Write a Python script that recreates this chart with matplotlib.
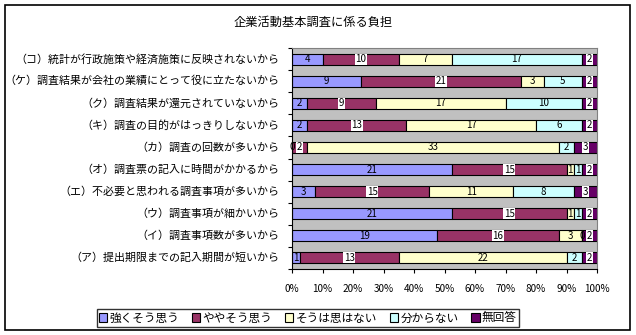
import matplotlib
matplotlib.use("Agg")
import numpy as np
import matplotlib.pyplot as plt
import matplotlib.transforms as mtransforms
from matplotlib.patches import Rectangle, Patch

plt.rcParams['font.family'] = ['Noto Sans CJK JP', 'DejaVu Sans']

title = "企業活動基本調査に係る負担"
categories = [
    "（コ）統計が行政施策や経済施策に反映されないから",
    "（ケ）調査結果が会社の業績にとって役に立たないから",
    "（ク）調査結果が還元されていないから",
    "（キ）調査の目的がはっきりしないから",
    "（カ）調査の回数が多いから",
    "（オ）調査票の記入に時間がかかるから",
    "（エ）不必要と思われる調査事項が多いから",
    "（ウ）調査事項が細かいから",
    "（イ）調査事項数が多いから",
    "（ア）提出期限までの記入期間が短いから",
]
series_names = ["強くそう思う", "ややそう思う", "そうは思はない", "分からない", "無回答"]
strong = [4, 9, 2, 2, 0, 21, 3, 21, 19, 1]
somewhat = [10, 21, 9, 13, 2, 15, 15, 15, 16, 13]
not_so = [7, 3, 17, 17, 33, 1, 11, 1, 3, 22]
unknown = [17, 5, 10, 6, 2, 1, 8, 1, 0, 2]
no_answer = [2, 2, 2, 2, 3, 2, 3, 2, 2, 2]
xtick_labels = ["0%", "10%", "20%", "30%", "40%", "50%", "60%", "70%", "80%", "90%", "100%"]

colors = ["#9999FF", "#993366", "#FFFFCC", "#CCFFFF", "#660066"]
dark = [False, True, False, False, True]

data = np.array([strong, somewhat, not_so, unknown, no_answer], dtype=float)
totals = data.sum(axis=0)
pct = data / totals * 100

fig = plt.figure(figsize=(6.36, 3.35), dpi=100)
fig.patches.append(Rectangle((5/636, 1-330/335), 625/636, 325/335, transform=fig.transFigure,
                             fill=False, edgecolor="black", linewidth=1.2))
ax = fig.add_axes([292/636, 1-269/335, 305/636, 221/335])
ax.set_facecolor("#C0C0C0")

n = len(categories)
y = np.arange(n)[::-1]
left = np.zeros(n)
for k in range(5):
    ax.barh(y, pct[k], left=left, height=0.5, color=colors[k], edgecolor="black",
            linewidth=0.8, label=series_names[k])
    for i in range(n):
        cx = left[i] + pct[k][i] / 2
        if dark[k]:
            ax.text(cx, y[i], str(int(data[k][i])), ha="center", va="center", fontsize=7,
                    color="black", bbox=dict(boxstyle="square,pad=0.05", fc="white", ec="none"))
        else:
            ax.text(cx, y[i], str(int(data[k][i])), ha="center", va="center", fontsize=7,
                    color="black")
    left += pct[k]

ax.set_xlim(0, 100)
ax.set_ylim(-0.5, n - 0.5)
ax.set_xticks(np.arange(0, 101, 10))
ax.set_xticklabels(xtick_labels, fontsize=7.2)
offset = mtransforms.ScaledTranslation(-8/100, 0, fig.dpi_scale_trans)
for lab in ax.get_xticklabels():
    lab.set_transform(lab.get_transform() + offset)
ax.tick_params(axis="x", length=3, pad=8)

ax.set_yticks(np.arange(-0.5, n, 1.0))
ax.set_yticklabels([])
ax.tick_params(axis="y", length=3)
for i in range(n):
    ax.text(-4, y[i], categories[i], ha="right", va="center", fontsize=7.9,
            transform=ax.transData)

for s in ["top", "right"]:
    ax.spines[s].set_color("#808080")

fig.text(313/636, 1-22/335, title, ha="center", va="center", fontsize=8.8)

handles = [Patch(facecolor=colors[k], edgecolor="black", linewidth=0.8) for k in range(5)]
fig.legend(handles, series_names, loc="center", bbox_to_anchor=(308/636, 1-318/335),
           ncol=5, fontsize=8.4, frameon=True, fancybox=False, edgecolor="black",
           handlelength=0.7, handleheight=0.7, handletextpad=0.2, columnspacing=1.1,
           borderpad=0.2, borderaxespad=0)

fig.savefig("out.png", dpi=100)
